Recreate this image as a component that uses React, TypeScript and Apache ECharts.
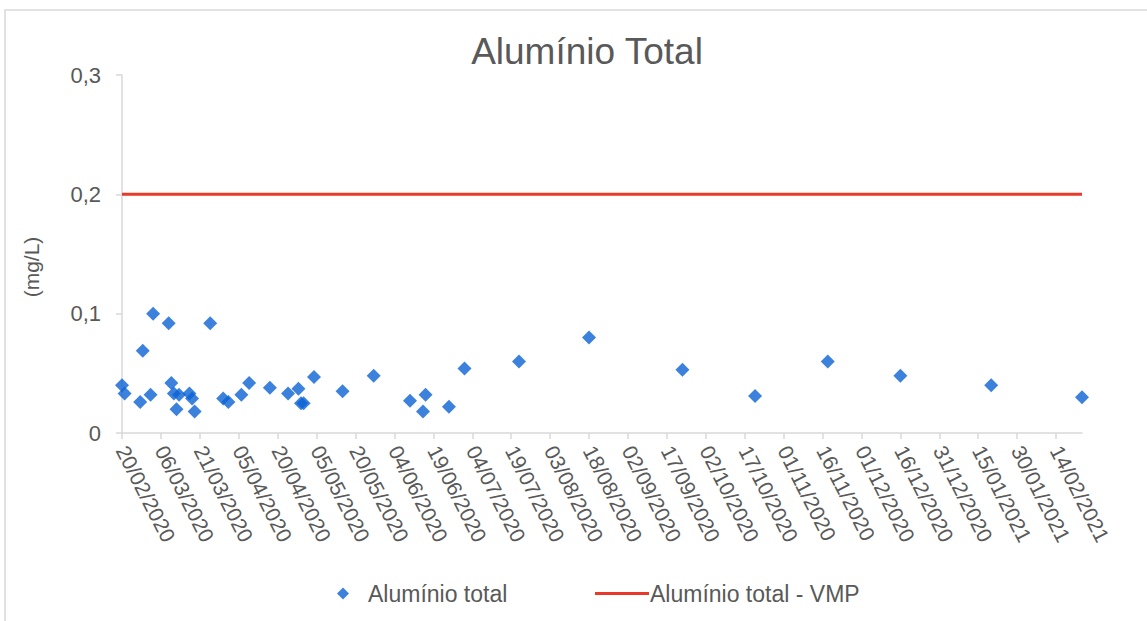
import React, { useEffect, useRef } from "react";
import * as echarts from "echarts";

const titleText = "Alumínio Total";
const yAxisName = "(mg/L)";
const seriesName = "Alumínio total";
const vmpName = "Alumínio total - VMP";

const sampleDates = [
  "2020-02-20", "2020-02-21", "2020-02-27", "2020-02-28", "2020-03-02",
  "2020-03-03", "2020-03-09", "2020-03-10", "2020-03-11", "2020-03-12",
  "2020-03-13", "2020-03-17", "2020-03-18", "2020-03-19", "2020-03-25",
  "2020-03-30", "2020-04-01", "2020-04-06", "2020-04-09", "2020-04-17",
  "2020-04-24", "2020-04-28", "2020-04-29", "2020-04-30", "2020-05-04",
  "2020-05-15", "2020-05-27", "2020-06-10", "2020-06-15", "2020-06-16",
  "2020-06-25", "2020-07-01", "2020-07-22", "2020-08-18", "2020-09-23",
  "2020-10-21", "2020-11-18", "2020-12-16", "2021-01-20", "2021-02-24",
];

const aluminioValues = [
  0.040, 0.033, 0.026, 0.069, 0.032,
  0.100, 0.092, 0.042, 0.033, 0.020,
  0.032, 0.033, 0.029, 0.018, 0.092,
  0.029, 0.026, 0.032, 0.042, 0.038,
  0.033, 0.037, 0.025, 0.025, 0.047,
  0.035, 0.048, 0.027, 0.018, 0.032,
  0.022, 0.054, 0.060, 0.080, 0.053,
  0.031, 0.060, 0.048, 0.040, 0.030,
];

const vmpValue = 0.2;

const xTickLabels = [
  "20/02/2020", "06/03/2020", "21/03/2020", "05/04/2020", "20/04/2020",
  "05/05/2020", "20/05/2020", "04/06/2020", "19/06/2020", "04/07/2020",
  "19/07/2020", "03/08/2020", "18/08/2020", "02/09/2020", "17/09/2020",
  "02/10/2020", "17/10/2020", "01/11/2020", "16/11/2020", "01/12/2020",
  "16/12/2020", "31/12/2020", "15/01/2021", "30/01/2021", "14/02/2021",
];

const yTicks = [0, 0.1, 0.2, 0.3];

const isoToTs = (s: string) => {
  const [y, m, d] = s.split("-").map(Number);
  return Date.UTC(y, m - 1, d);
};
const dmyToTs = (s: string) => {
  const [d, m, y] = s.split("/").map(Number);
  return Date.UTC(y, m - 1, d);
};
const pad = (n: number) => (n < 10 ? "0" + n : "" + n);
const fmtDate = (ts: number) => {
  const dt = new Date(ts);
  return pad(dt.getUTCDate()) + "/" + pad(dt.getUTCMonth() + 1) + "/" + dt.getUTCFullYear();
};

export default function App() {
  const ref = useRef<HTMLDivElement>(null);

  useEffect(() => {
    if (!ref.current) return;
    const chart = echarts.init(ref.current, undefined, { renderer: "svg" });
    const xs = sampleDates.map(isoToTs);
    const xMin = xs[0];
    const xMax = xs[xs.length - 1];
    const tickVals = xTickLabels.map(dmyToTs);
    const font = "'Liberation Sans', Arial, sans-serif";
    const textColor = "#595959";
    const axisColor = "#d9d9d9";
    const blue = "#0b63d4";
    const red = "#e8392b";

    chart.setOption({
      animation: false,
      backgroundColor: "#ffffff",
      title: {
        text: titleText,
        left: 582,
        top: 28,
        textAlign: "center",
        textStyle: { fontFamily: font, fontSize: 37, fontWeight: "normal", color: textColor },
      },
      grid: { left: 122, right: 65, top: 75, bottom: 188 },
      legend: [
        {
          data: [{ name: seriesName, icon: "diamond" }],
          left: 332,
          top: 577,
          itemWidth: 12,
          itemHeight: 12,
          textStyle: { fontFamily: font, fontSize: 23, color: textColor, padding: [0, 0, 0, 14] },
        },
        {
          data: [{ name: vmpName, icon: "rect" }],
          left: 590,
          top: 577,
          itemWidth: 54,
          itemHeight: 3,
          textStyle: { fontFamily: font, fontSize: 23, color: textColor, padding: [0, 0, 0, -4] },
        },
      ],
      xAxis: {
        type: "value",
        min: xMin,
        max: xMax,
        splitLine: { show: false },
        axisLine: { show: true, lineStyle: { color: axisColor, width: 1.5 } },
        axisTick: { show: true, length: 6, lineStyle: { color: axisColor, width: 1.5 }, customValues: tickVals },
        axisLabel: {
          customValues: tickVals,
          rotate: -63,
          margin: 14,
          fontFamily: font,
          fontSize: 21,
          color: textColor,
          formatter: (v: number) => fmtDate(v),
        },
      },
      yAxis: {
        type: "value",
        min: yTicks[0],
        max: yTicks[yTicks.length - 1],
        interval: 0.1,
        splitLine: { show: false },
        axisLine: { show: true, lineStyle: { color: axisColor, width: 1.5 } },
        axisTick: { show: true, length: 6, lineStyle: { color: axisColor, width: 1.5 } },
        axisLabel: {
          margin: 21,
          fontFamily: font,
          fontSize: 22,
          color: textColor,
          formatter: (v: number) => (v === 0 ? "0" : v.toFixed(1).replace(".", ",")),
        },
      },
      series: [
        {
          name: seriesName,
          type: "scatter",
          symbol: "diamond",
          symbolSize: 14,
          itemStyle: { color: blue },
          data: xs.map((x, i) => [x, aluminioValues[i]]),
          z: 3,
        },
        {
          name: vmpName,
          type: "line",
          symbol: "none",
          lineStyle: { color: red, width: 3 },
          itemStyle: { color: red },
          data: [
            [xMin, vmpValue],
            [xMax, vmpValue],
          ],
          z: 2,
        },
      ],
      graphic: [
        {
          type: "rect",
          shape: { x: 5, y: 10, width: 1200, height: 700 },
          style: { fill: "none", stroke: "#d9d9d9", lineWidth: 1.5 },
          silent: true,
        },
        {
          type: "text",
          x: 31,
          y: 267,
          rotation: Math.PI / 2,
          style: {
            text: yAxisName,
            align: "center",
            verticalAlign: "middle",
            fontFamily: font,
            fontSize: 21,
            fill: textColor,
          },
        },
      ],
    });
    return () => chart.dispose();
  }, []);

  return (
    <div
      ref={ref}
      style={{ position: "absolute", left: 0, top: 0, width: 1147, height: 621, background: "#fff" }}
    />
  );
}
